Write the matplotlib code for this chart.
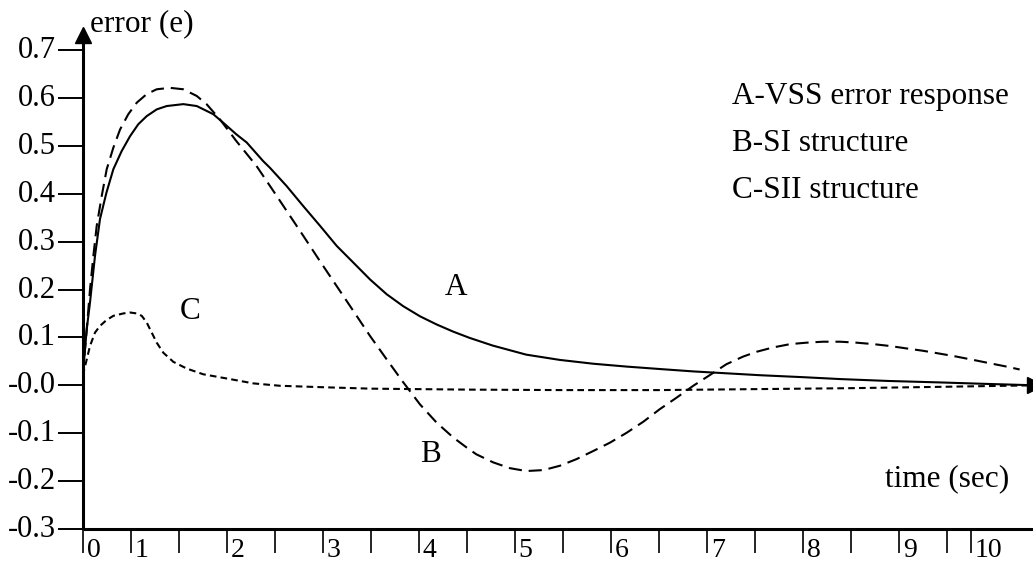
import matplotlib
matplotlib.use("Agg")
import matplotlib.pyplot as plt
from matplotlib.transforms import ScaledTranslation

plt.rcParams['font.family'] = ['Liberation Serif', 'DejaVu Serif']

# ---- data (x in axis units, y = error) ----
A_x = [0, 0.042, 0.076, 0.128, 0.18, 0.247, 0.319, 0.406, 0.493, 0.579, 0.667, 0.771,
       0.875, 1.048, 1.188, 1.36, 1.465, 1.60, 1.708, 1.88, 1.951, 2.124, 2.298, 2.472,
       2.646, 2.82, 2.993, 3.167, 3.34, 3.514, 3.687, 3.86, 4.03, 4.27, 4.62, 4.97, 5.32,
       5.67, 6.01, 6.36, 6.71, 7.06, 7.5, 7.89, 8.4, 8.93, 9.4, 9.92]
A_y = [0.02, 0.117, 0.173, 0.270, 0.347, 0.402, 0.451, 0.489, 0.520, 0.545, 0.562, 0.576,
       0.583, 0.587, 0.583, 0.566, 0.548, 0.524, 0.507, 0.468, 0.454, 0.416, 0.374, 0.333,
       0.291, 0.256, 0.221, 0.190, 0.165, 0.144, 0.127, 0.112, 0.099, 0.083, 0.064, 0.053,
       0.045, 0.039, 0.034, 0.029, 0.025, 0.021, 0.017, 0.013, 0.009, 0.006, 0.003, 0.0]

B_x = [0, 0.042, 0.076, 0.111, 0.146, 0.198, 0.25, 0.319, 0.389, 0.475, 0.563, 0.667,
       0.771, 0.909, 1.048, 1.188, 1.29, 1.43, 1.60, 1.81, 1.985, 2.125, 2.298, 2.472,
       2.646, 2.82, 2.993, 3.167, 3.34, 3.514, 3.687, 3.86, 4.0, 4.10, 4.277, 4.45, 4.62,
       4.80, 4.97, 5.145, 5.32, 5.49, 5.667, 5.84, 6.01, 6.185, 6.36, 6.53, 6.705, 6.88,
       7.02, 7.19, 7.37, 7.54, 7.71, 7.89, 8.06, 8.235, 8.41, 8.58, 8.756, 8.93, 9.10,
       9.277, 9.45, 9.625, 9.76]
B_y = [0.02, 0.117, 0.200, 0.270, 0.333, 0.395, 0.451, 0.496, 0.534, 0.566, 0.590, 0.608,
       0.618, 0.621, 0.618, 0.604, 0.587, 0.555, 0.510, 0.458, 0.406, 0.364, 0.312, 0.259,
       0.207, 0.155, 0.103, 0.054, 0.006, -0.040, -0.078, -0.109, -0.130, -0.144, -0.161,
       -0.173, -0.179, -0.177, -0.168, -0.154, -0.137, -0.120, -0.099, -0.076, -0.050,
       -0.026, -0.001, 0.021, 0.044, 0.060, 0.070, 0.079, 0.086, 0.089, 0.091, 0.091,
       0.089, 0.086, 0.082, 0.077, 0.072, 0.066, 0.060, 0.053, 0.046, 0.039, 0.033]

C_x = [0, 0.042, 0.076, 0.128, 0.18, 0.247, 0.319, 0.423, 0.493, 0.563, 0.615, 0.667,
       0.719, 0.771, 0.84, 0.944, 1.083, 1.256, 1.534, 1.777, 2.055, 2.5, 3.0, 3.5, 4.0,
       5.0, 6.0, 7.0, 8.0, 9.0, 9.92]
C_y = [0.02, 0.054, 0.082, 0.110, 0.124, 0.136, 0.145, 0.150, 0.152, 0.150, 0.145, 0.131,
       0.110, 0.089, 0.068, 0.049, 0.035, 0.023, 0.013, 0.004, -0.001, -0.004, -0.007,
       -0.008, -0.009, -0.010, -0.010, -0.008, -0.006, -0.003, 0.0]

y_ticks = [-0.3, -0.2, -0.1, 0.0, 0.1, 0.2, 0.3, 0.4, 0.5, 0.6, 0.7]
y_labels = ["-0.3", "-0.2", "-0.1", "-0.0", "0.1", "0.2", "0.3", "0.4", "0.5", "0.6", "0.7"]

x_ticks = [0, 0.5, 1.0, 1.5, 2.0, 2.5, 3.0, 3.5, 4.0, 4.5, 5.0, 5.5, 6.0, 6.5, 7.0, 7.5,
           8.0, 8.5, 9.0, 9.25]
x_labels = ["0", "1", "", "2", "", "3", "", "4", "", "5", "", "6", "", "7", "", "8", "",
            "9", "", "10"]

legend_lines = ["A-VSS error response", "B-SI structure", "C-SII structure"]

# ---- figure ----
W, H = 1033, 563
fig = plt.figure(figsize=(W / 100, H / 100), dpi=100)
ax = fig.add_axes([82.7 / W, (H - 529) / H, (1035 - 82.7) / W, (529 - 34.5) / H])
ax.set_xlim(0, (1035 - 82.7) / 96)
ax.set_ylim(-0.3, -0.3 + (529 - 34.5) / 479)

for s in ['top', 'right']:
    ax.spines[s].set_visible(False)
for s in ['left', 'bottom']:
    ax.spines[s].set_linewidth(2.2)
    ax.spines[s].set_capstyle('butt')

ax.plot(A_x, A_y, color='black', lw=1.5, solid_joinstyle='round')
ax.plot(B_x, B_y, color='black', lw=1.5, dashes=(6.3, 3.3), dash_joinstyle='round')
ax.plot(C_x, C_y, color='black', lw=1.5, dashes=(3.2, 2.0), dash_joinstyle='round')

# arrows
ax.plot(0, 1, marker='^', color='black', markersize=11, transform=ax.get_xaxis_transform(),
        clip_on=False)
ax.plot(1, 0, marker='>', color='black', markersize=11, transform=ax.get_yaxis_transform(),
        clip_on=False)

ax.set_yticks(y_ticks)
ax.set_yticklabels(y_labels)
ax.set_xticks(x_ticks)
ax.set_xticklabels(x_labels)
ax.tick_params(axis='y', direction='out', length=18, width=1.4, pad=1.5, labelsize=22)
ax.tick_params(axis='x', direction='out', length=17.3, width=1.2, pad=-11, labelsize=20)

for lbl in ax.get_xticklabels():
    lbl.set_ha('left')
    lbl.set_transform(lbl.get_transform() + ScaledTranslation(4 / 100, 0, fig.dpi_scale_trans))
for lbl in ax.get_yticklabels():
    lbl.set_transform(lbl.get_transform() + ScaledTranslation(0, 3 / 100, fig.dpi_scale_trans))

fs = 22.5
ax.text(0.076, 0.739, "error (e)", fontsize=fs, va='baseline', ha='left', clip_on=False)
ax.text(8.36, -0.211, "time (sec)", fontsize=fs, va='baseline', ha='left')
leg_y = [0.587, 0.489, 0.392]
for t, yy in zip(legend_lines, leg_y):
    ax.text(6.76, yy, t, fontsize=fs, va='baseline', ha='left')
ax.text(3.77, 0.188, "A", fontsize=fs, va='baseline', ha='left')
ax.text(3.51, -0.161, "B", fontsize=fs, va='baseline', ha='left')
ax.text(1.01, 0.138, "C", fontsize=fs, va='baseline', ha='left')

fig.savefig("out.png", dpi=100)
